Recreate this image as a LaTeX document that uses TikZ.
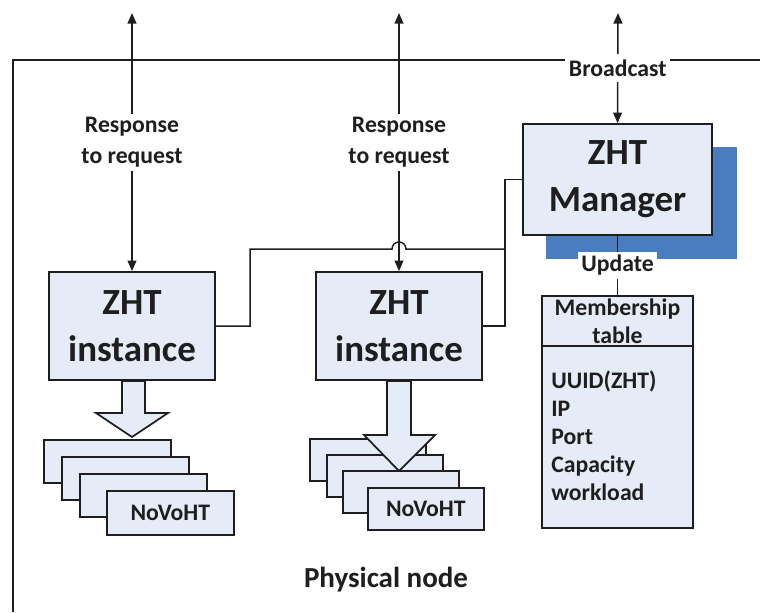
\documentclass[tikz,border=0pt]{standalone}
\usepackage{fontspec}
\setmainfont{Carlito}
\usetikzlibrary{arrows.meta}
\definecolor{boxfill}{RGB}{230,236,247}
\definecolor{shadowblue}{RGB}{74,124,192}
\definecolor{ink}{RGB}{30,30,30}
\newcommand{\pxu}{0.02cm}
\begin{document}
\begin{tikzpicture}[x=0.02cm,y=-0.02cm,font=\bfseries,
  box/.style={draw=ink, line width=1pt, fill=boxfill, align=center, inner sep=0pt, text=ink},
  bigtext/.style={font=\bfseries\fontsize{21}{26.6}\selectfont},
  lbl/.style={fill=white, align=center, inner sep=2pt, text=ink, font=\bfseries\fontsize{13.5}{17.6}\selectfont},
  conn/.style={draw=ink, line width=0.85pt},
  twoarr/.style={conn, {Triangle[length=6pt,width=5pt]}-{Triangle[length=6pt,width=5pt]}},
  stackbox/.style={box, font=\bfseries\fontsize{13.5}{16}\selectfont}
]
\useasboundingbox (0,0) rectangle (760,612);

% outer frame (physical node)
\draw[conn] (13,612) -- (13,60) -- (760,60);
\node[text=ink, font=\bfseries\fontsize{16.5}{19}\selectfont] (phys) at (386,580) {Physical node};

% top coordinates
\coordinate (top1) at (132,13);
\coordinate (top2) at (399,13);
\coordinate (top3) at (618,13);

% manager with shadow
\node[fill=shadowblue, inner sep=0pt, minimum width=191*\pxu, minimum height=112*\pxu] (shadow) at (641.5,203) {};
\node[box, bigtext, minimum width=189*\pxu, minimum height=111*\pxu] (mgr) at (617.5,179.5) {ZHT\\Manager};

% instances
\node[box, bigtext, minimum width=166*\pxu, minimum height=108*\pxu] (inst1) at (132,326) {ZHT\\instance};
\node[box, bigtext, minimum width=166*\pxu, minimum height=108*\pxu] (inst2) at (399,326) {ZHT\\instance};

% membership table
\node[box, minimum width=151*\pxu, minimum height=232*\pxu] (mtable) at (617.5,412) {};
\draw[conn, line width=1pt] (mtable.west |- 0,346) -- (mtable.east |- 0,346);
\node[align=center, inner sep=0pt, text=ink, font=\bfseries\fontsize{13.5}{15.9}\selectfont] (mhead) at (617.5,321) {Membership\\table};
\node[anchor=north west, align=left, inner sep=0pt, text=ink, font=\bfseries\fontsize{13.5}{15.9}\selectfont] (mitems) at (551,371) {UUID(ZHT)\\IP\\Port\\Capacity\\workload};

% arrows to outside
\draw[twoarr] (inst1.north) -- node[lbl] {Response\\to request} (top1);
\draw[twoarr] (inst2.north) -- node[lbl] {Response\\to request} (top2);
\draw[twoarr] (mgr.north) -- node[lbl, inner ysep=3pt] {Broadcast} (top3);
\draw[conn] (mgr.south) -- node[lbl] {Update} (mtable.north);

% connections manager -> instances
\coordinate (j) at (505,249);
\draw[conn] (mgr.west) -| (j) |- (inst2.east);
\draw[conn] (j) -- (406,249) arc[start angle=0, end angle=180, radius=0.14cm] -- (250,249) |- (inst1.east);

% left NoVoHT stack
\node[stackbox, minimum width=127*\pxu, minimum height=43*\pxu, anchor=north west] (l1) at (43,439) {};
\node[stackbox, minimum width=127*\pxu, minimum height=43*\pxu, anchor=north west] (l2) at (61,456) {};
\node[stackbox, minimum width=127*\pxu, minimum height=43*\pxu, anchor=north west] (l3) at (79,473) {};
\node[stackbox, minimum width=127*\pxu, minimum height=44*\pxu, anchor=north west] (l4) at (106,490) {NoVoHT};
\draw[box] (inst1.south -| 122,0) -- (122,413) -- (96,413) -- (132,437) -- (168,413) -- (145,413) -- (inst1.south -| 145,0) -- cycle;

% middle NoVoHT stack
\node[stackbox, minimum width=116*\pxu, minimum height=42*\pxu, anchor=north west] (m1) at (309,438) {};
\node[stackbox, minimum width=116*\pxu, minimum height=42*\pxu, anchor=north west] (m2) at (326,454) {};
\draw[box] (inst2.south -| 387,0) -- (387,435) -- (364,435) -- (399,471) -- (435,435) -- (411,435) -- (inst2.south -| 411,0) -- cycle;
\node[stackbox, minimum width=116*\pxu, minimum height=42*\pxu, anchor=north west] (m3) at (342,470) {};
\node[stackbox, minimum width=116*\pxu, minimum height=42*\pxu, anchor=north west] (m4) at (367,487) {NoVoHT};
\end{tikzpicture}
\end{document}
